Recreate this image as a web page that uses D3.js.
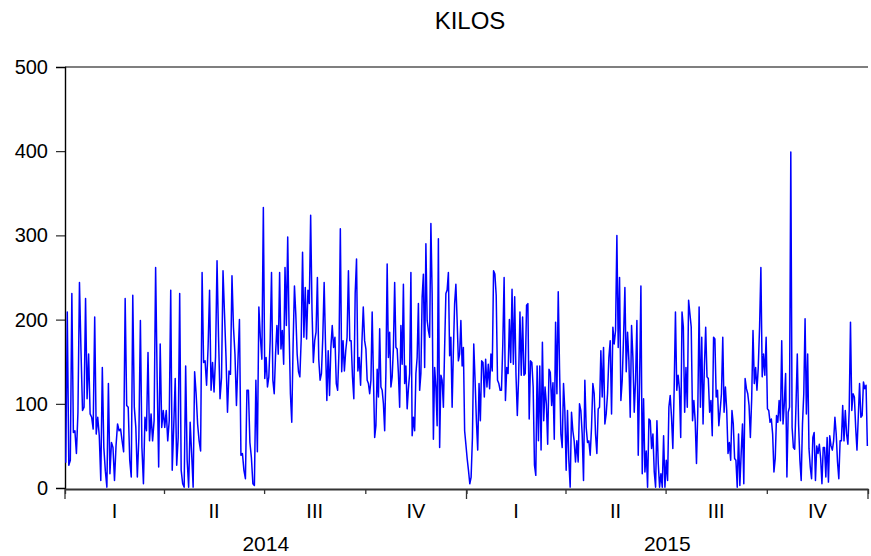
<!DOCTYPE html>
<html>
<head>
<meta charset="utf-8">
<script src="https://cdn.jsdelivr.net/npm/d3@7"></script>
<style>
  body { margin: 0; background: #fff; }
  svg { display: block; }
  text { font-family: "Liberation Sans", Arial, sans-serif; fill: #000; }
</style>
</head>
<body>
<div id="chart"></div>
<script>
// KILOS, daily values, one array per quarter
const q1_2014 = [30, 209, 27, 33, 231, 66, 68, 41, 90, 244, 163, 92, 96, 225, 106, 159, 88, 84, 70, 203, 64, 84, 62, 9, 143, 48, 20, 1, 124, 17, 54, 48, 9, 50, 76, 68, 70, 56, 43, 225, 98, 96, 33, 13, 229, 96, 72, 13, 60, 199, 48, 5, 84, 68, 161, 56, 88, 56, 80, 262, 130, 25, 171, 72, 92]
const q2_2014 = [72, 92, 56, 80, 235, 21, 72, 130, 27, 60, 231, 21, 5, 1, 145, 33, 1, 78, 41, 1, 138, 112, 76, 56, 44, 256, 149, 151, 122, 167, 235, 116, 149, 114, 156, 270, 179, 106, 131, 258, 207, 156, 90, 139, 135, 252, 191, 159, 98, 151, 200, 39, 41, 21, 11, 116, 116, 54, 36, 5, 3, 128, 43, 215, 179, 153, 333]
const q3_2014 = [130, 155, 120, 132, 175, 256, 128, 112, 159, 193, 159, 256, 165, 187, 147, 262, 193, 298, 191, 112, 78, 171, 240, 206, 159, 138, 132, 177, 280, 179, 238, 177, 235, 219, 324, 212, 149, 175, 185, 250, 153, 128, 136, 179, 244, 171, 104, 163, 110, 167, 193, 167, 179, 124, 116, 163, 308, 138, 175, 139, 163, 179, 258, 175, 175, 132, 106, 231, 272, 139, 155, 122, 173, 215, 175]
const q4_2014 = [165, 128, 124, 112, 128, 209, 132, 60, 74, 141, 108, 189, 120, 116, 100, 68, 138, 266, 155, 185, 120, 132, 167, 244, 167, 165, 136, 96, 193, 147, 242, 124, 145, 94, 118, 136, 256, 62, 84, 68, 136, 155, 219, 116, 136, 227, 254, 143, 290, 199, 187, 179, 314, 231, 58, 143, 120, 74, 296, 48, 134, 128, 96, 167, 231, 235, 256, 157, 179, 96, 163, 219, 242, 199, 151, 159, 199, 145, 167, 68, 52]
const q1_2015 = [35, 21, 5, 13, 60, 171, 128, 80, 45, 124, 80, 151, 149, 108, 153, 120, 147, 118, 159, 139, 258, 254, 229, 128, 124, 116, 116, 171, 250, 104, 143, 136, 200, 149, 236, 147, 227, 134, 86, 132, 209, 134, 203, 134, 136, 217, 219, 82, 151, 149, 120, 27, 15, 145, 56, 145, 45, 173, 80, 120, 100, 52, 141, 137, 98, 125, 58, 197, 112, 233, 141, 64, 48, 124, 92]
const q2_2015 = [21, 92, 33, 1, 90, 68, 56, 31, 56, 31, 100, 92, 64, 9, 128, 72, 54, 56, 39, 72, 124, 112, 64, 41, 94, 96, 163, 108, 167, 76, 88, 112, 155, 175, 88, 191, 171, 187, 300, 167, 250, 104, 128, 179, 238, 138, 185, 151, 84, 193, 155, 90, 128, 199, 39, 126, 240, 17, 106, 19, 44, 1, 82, 80, 47, 64, 19, 1, 80, 29, 1, 17, 1, 62, 1]
const q3_2015 = [33, 9, 96, 110, 84, 47, 116, 209, 116, 134, 118, 60, 209, 191, 90, 143, 96, 223, 207, 191, 80, 104, 80, 29, 92, 215, 96, 179, 76, 143, 191, 132, 130, 90, 104, 62, 179, 177, 108, 116, 74, 92, 112, 179, 90, 120, 92, 41, 54, 33, 92, 76, 35, 33, 1, 64, 3, 41, 76, 5, 130, 118, 112, 98, 60, 106, 187, 124, 143, 116, 143, 191, 262, 132, 159, 134, 179]
const q4_2015 = [94, 92, 78, 82, 64, 19, 35, 86, 78, 104, 80, 175, 76, 100, 136, 13, 90, 96, 399, 72, 48, 46, 98, 159, 76, 33, 9, 76, 112, 201, 88, 159, 47, 25, 11, 60, 66, 9, 50, 41, 52, 35, 5, 48, 48, 13, 60, 7, 62, 50, 45, 56, 84, 64, 31, 11, 56, 56, 98, 56, 92, 64, 52, 92, 197, 92, 112, 108, 72, 45, 84, 124, 84, 86, 126, 118, 122, 50]

const years = [2014, 2015]
const quarterLabels = ['I', 'II', 'III', 'IV']
const quarterData = [q1_2014, q2_2014, q3_2014, q4_2014, q1_2015, q2_2015, q3_2015, q4_2015]
const yTicks = [0, 100, 200, 300, 400, 500]

const width = 871, height = 556
const margin = { top: 67, right: 3, bottom: 68, left: 65 }

const svg = d3.select('#chart').append('svg')
    .attr('width', width)
    .attr('height', height)

const x = d3.scaleTime()
    .domain([new Date(years[0], 0, 1), new Date(years[years.length - 1] + 1, 0, 1)])
    .range([margin.left, width - margin.right])

const y = d3.scaleLinear()
    .domain([0, 500])
    .range([height - margin.bottom, margin.top])

// spread every quarter's readings evenly over its days
const series = []
quarterData.forEach((vals, qi) => {
    const yr = years[Math.floor(qi / 4)]
    const start = new Date(yr, (qi % 4) * 3, 1)
    const end = new Date(yr, (qi % 4) * 3 + 3, 1)
    const span = end - start
    vals.forEach((v, i) => {
        series.push({ date: new Date(+start + (i + 0.5) / vals.length * span), value: v })
    })
})

// top border
svg.append('line')
    .attr('x1', margin.left).attr('x2', width - margin.right)
    .attr('y1', margin.top).attr('y2', margin.top)
    .attr('stroke', '#000').attr('stroke-width', 1.2)

// y axis
const yAxis = svg.append('g')
    .attr('transform', `translate(${margin.left},0)`)
    .call(d3.axisLeft(y).tickValues(yTicks).tickSize(9).tickPadding(8))
yAxis.select('.domain').attr('stroke', '#000').attr('stroke-width', 1.4)
yAxis.selectAll('.tick line').attr('stroke', '#000')
yAxis.selectAll('text')
    .style('font-size', '20px')
    .style('font-family', '"Liberation Sans", Arial, sans-serif')
    .attr('fill', '#000')

// data line
const line = d3.line()
    .x(d => x(d.date))
    .y(d => y(d.value))

svg.append('path')
    .datum(series)
    .attr('fill', 'none')
    .attr('stroke', '#0000ff')
    .attr('stroke-width', 1.5)
    .attr('stroke-linejoin', 'round')
    .attr('d', line)

// x axis: quarter ticks short, year ticks long
const quarterStarts = d3.range(years.length * 4 + 1).map(i => new Date(years[0], i * 3, 1))
const yearStarts = d3.range(years.length + 1).map(i => new Date(years[0] + i, 0, 1))

const xAxis = svg.append('g')
    .attr('transform', `translate(0,${y(0) + 1})`)
    .call(d3.axisBottom(x).tickValues(quarterStarts).tickSize(5).tickFormat('').tickSizeOuter(0))
xAxis.select('.domain').attr('stroke', '#333').attr('stroke-width', 2.2)
xAxis.selectAll('.tick line').attr('stroke', '#333').attr('stroke-width', 1.3)

svg.append('g')
    .attr('transform', `translate(0,${y(0) + 1})`)
    .selectAll('line')
    .data(yearStarts)
    .join('line')
    .attr('x1', d => x(d)).attr('x2', d => x(d))
    .attr('y1', 0).attr('y2', 10)
    .attr('stroke', '#333').attr('stroke-width', 1.3)

svg.append('g').selectAll('text')
    .data(d3.range(years.length * 4))
    .join('text')
    .attr('x', i => (x(quarterStarts[i]) + x(quarterStarts[i + 1])) / 2)
    .attr('y', 518)
    .attr('text-anchor', 'middle')
    .style('font-size', '20px')
    .text(i => quarterLabels[i % 4])

svg.append('g').selectAll('text')
    .data(years)
    .join('text')
    .attr('x', d => (x(new Date(d, 0, 1)) + x(new Date(d + 1, 0, 1))) / 2)
    .attr('y', 551)
    .attr('text-anchor', 'middle')
    .style('font-size', '21px')
    .text(d => d)

// title
svg.append('text')
    .attr('x', 470)
    .attr('y', 29)
    .attr('text-anchor', 'middle')
    .style('font-size', '24px')
    .text('KILOS')
</script>
</body>
</html>
